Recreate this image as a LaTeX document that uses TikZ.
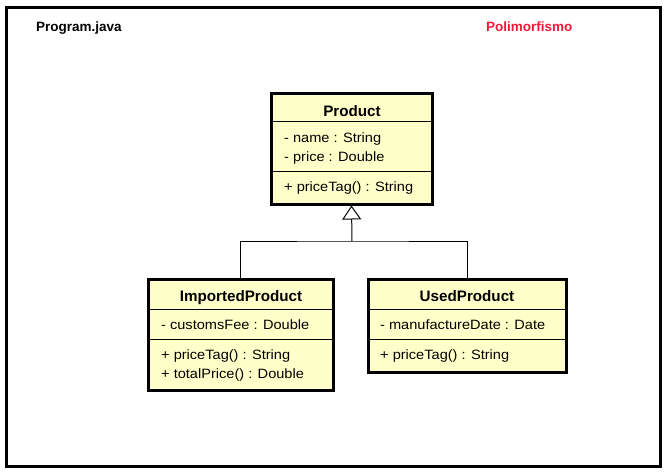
\documentclass[tikz,border=0pt]{standalone}
\usepackage{fontspec}
\setmainfont{Liberation Sans}
\newfontfamily\memberfont[FakeStretch=1.08]{Liberation Sans}
\usetikzlibrary{arrows.meta}
\definecolor{classfill}{RGB}{255,255,202}
\definecolor{titlered}{RGB}{245,25,55}

\begin{document}
\begin{tikzpicture}[x=1pt, y=-1pt,
    Class/.style = {draw, line width=3pt, fill=classfill, inner sep=0pt},
    Sep/.style = {line width=0.8pt},
    Title/.style = {font=\fontsize{15.2}{18}\selectfont\bfseries, anchor=base, inner sep=0pt},
    Member/.style = {font=\memberfont\fontsize{13.5}{16}\selectfont, anchor=base west, inner sep=0pt},
    Header/.style = {font=\fontsize{13.5}{16}\selectfont\bfseries, anchor=base west, inner sep=0pt}]
    \useasboundingbox (0,0) rectangle (665,474);
    \draw[line width=3pt] (6,7) rectangle (660,466);
    \node[Header] (file) at (36,31) {Program.java};
    \node[Header, text=titlered] (topic) at (486,31) {Polimorfismo};

    % classes
    \node[Class, minimum width=161pt, minimum height=111pt] (product) at (351.5,148.5) {};
    \node[Class, minimum width=185pt, minimum height=111pt] (imported) at (240.5,334.5) {};
    \node[Class, minimum width=198pt, minimum height=93pt] (used) at (467,325.5) {};

    \draw[Sep] (271,121) -- (432,121);
    \draw[Sep] (271,171) -- (432,171);
    \draw[Sep] (148,309) -- (333,309);
    \draw[Sep] (148,339) -- (333,339);
    \draw[Sep] (368,309) -- (566,309);
    \draw[Sep] (368,339) -- (566,339);

    \node[Title] (productname) at (352,116) {Product};
    \node[Member] (name) at (284,142) {- name : String};
    \node[Member] (price) at (284,161) {- price : Double};
    \node[Member] (pricetag) at (284,191) {+ priceTag() : String};

    \node[Title] (importedname) at (241,301) {ImportedProduct};
    \node[Member] (fee) at (161,329) {- customsFee : Double};
    \node[Member] (importedtag) at (161,359) {+ priceTag() : String};
    \node[Member] (total) at (161,378) {+ totalPrice() : Double};

    \node[Title] (usedname) at (467,301) {UsedProduct};
    \node[Member] (date) at (380,329) {- manufactureDate : Date};
    \node[Member] (usedtag) at (380,359) {+ priceTag() : String};

    % inheritance
    \coordinate (joint) at (352,241);
    \draw[line width=1pt] (imported.north) |- (joint) -| (used.north);
    \draw[line width=1pt, -{Triangle[open, width=19pt, length=14pt]}] (joint) -- (product.south);
\end{tikzpicture}
\end{document}
